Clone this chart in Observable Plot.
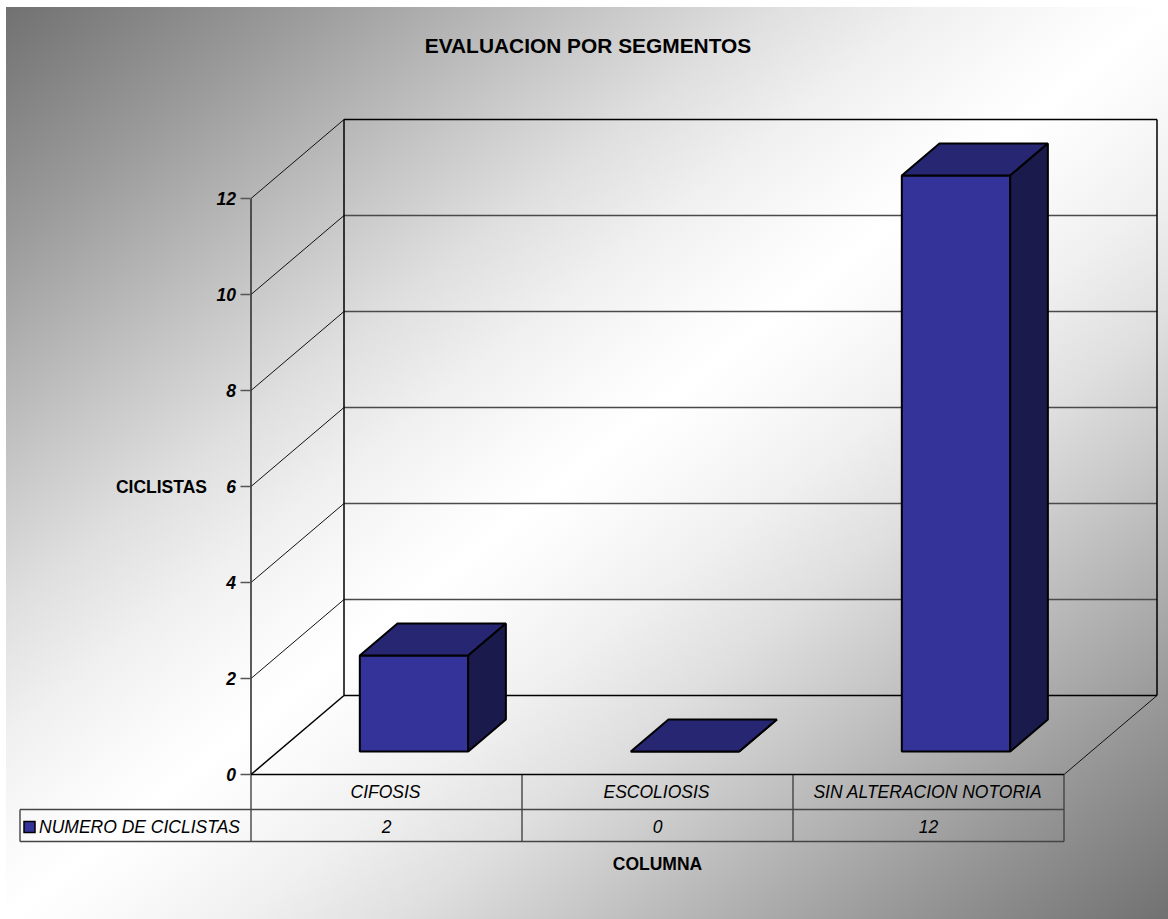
<!DOCTYPE html>
<html lang="es">
<head>
<meta charset="utf-8">
<title>Evaluacion por segmentos</title>
<script src="https://cdn.jsdelivr.net/npm/d3@7"></script>
<script src="https://cdn.jsdelivr.net/npm/@observablehq/plot@0.6"></script>
<style>
  html, body { margin: 0; padding: 0; background: #fff; }
  #chart { position: relative; width: 1168px; height: 919px; overflow: hidden; }
  #panel { position: absolute; left: 6px; top: 7px; right: 0; bottom: 0;
           background: linear-gradient(to bottom right,
             #717171 0%, #9b9b9b 13%, #c8c8c8 26%, #dfdfdf 33%, #f0f0f0 40%, #fafafa 46%, #ffffff 50%,
             #fafafa 54%, #f0f0f0 60%, #dfdfdf 67%, #c8c8c8 74%, #9b9b9b 87%, #717171 100%); }
  #chart svg { position: absolute; left: 0; top: 0; }
</style>
</head>
<body>
<div id="chart"><div id="panel"></div></div>
<script>
// Chart content
const chartTitle = "EVALUACION POR SEGMENTOS";
const yTitle = "CICLISTAS";
const xTitle = "COLUMNA";
const seriesName = "NUMERO DE CICLISTAS";
const categories = ["CIFOSIS", "ESCOLIOSIS", "SIN ALTERACION NOTORIA"];
const counts = [2, 0, 12];
const yTicks = [0, 2, 4, 6, 8, 10, 12];

// Oblique projection: depth 0 is the front plane, depth 1 the back wall.
// One unit of depth moves a point this far in x (category) and y (value) units.
const depthX = 93 / 271;
const depthY = 79 / 48;
const at = (x, y, d = 0) => ({x: x + d * depthX, y: y + d * depthY});
const edge = (x1, y1, d1, x2, y2, d2) => {
  const a = at(x1, y1, d1), b = at(x2, y2, d2);
  return {x1: a.x, y1: a.y, x2: b.x, y2: b.y};
};

const nCat = categories.length;
const topV = yTicks[yTicks.length - 1];

// Slanted gridlines on the left wall and the right edge of the floor
const slantEdges = [
  ...yTicks.slice(1).map(v => edge(0, v, 0, 0, v, 1)),
  edge(nCat, 0, 0, nCat, 0, 1)
];
// Horizontal gridlines on the back wall
const wallGrid = yTicks.slice(1, -1).map(v => edge(0, v, 1, nCat, v, 1));
// Box outline
const frameEdges = [
  edge(0, topV, 1, nCat, topV, 1),
  edge(0, 0, 1, 0, topV, 1),
  edge(nCat, 0, 1, nCat, topV, 1),
  edge(0, 0, 1, nCat, 0, 1),
  edge(0, 0, 0, 0, 0, 1),
  edge(0, 0, 0, nCat, 0, 0)
];
const axisLine = [edge(0, 0, 0, 0, topV, 0)];

// Three visible faces of each column
const barFront = 0.29, barBack = 0.695, barInset = 0.302, barWidth = 0.4;
const faces = [];
counts.forEach((v, i) => {
  const l = i + barInset, r = l + barWidth;
  const quad = (name, fill, pts) => pts.forEach(p => faces.push({...at(...p), face: `${i}-${name}`, fill}));
  quad("front", "#333399", [[l, 0, barFront], [r, 0, barFront], [r, v, barFront], [l, v, barFront]]);
  quad("top", "#262673", [[l, v, barFront], [r, v, barFront], [r, v, barBack], [l, v, barBack]]);
  quad("side", "#1a1a4d", [[r, 0, barFront], [r, 0, barBack], [r, v, barBack], [r, v, barFront]]);
});

// Data table under the plot, positioned in scale units below the axis
const rowLine1 = -35 / 48, rowLine2 = -67 / 48, tableLeft = -231 / 271;
const tableRules = [
  ...d3.range(nCat + 1).map(x => ({x1: x, y1: 0, x2: x, y2: rowLine2})),
  {x1: tableLeft, y1: rowLine1, x2: tableLeft, y2: rowLine2},
  {x1: tableLeft, y1: rowLine1, x2: nCat, y2: rowLine1},
  {x1: tableLeft, y1: rowLine2, x2: nCat, y2: rowLine2}
];
const catRowY = -18 / 48, valRowY = -52.5 / 48, xTitleY = -90 / 48;
const cellCenters = categories.map((_, i) => i + 0.5);

const ink = "#000";
const font = "'Liberation Sans', Arial, sans-serif";
const textSize = 17.5;
const links = {x1: "x1", y1: "y1", x2: "x2", y2: "y2"};

const plot = Plot.plot({
  width: 1168,
  height: 919,
  marginLeft: 250.5,
  marginRight: 104.5,
  marginTop: 198,
  marginBottom: 145,
  style: {background: "transparent", fontFamily: font, color: ink, maxWidth: "none"},
  x: {domain: [0, nCat], axis: null},
  y: {domain: [0, topV], axis: null},
  marks: [
    Plot.link(wallGrid, {...links, stroke: "#4a4a4a", strokeWidth: 1.4}),
    Plot.link(slantEdges, {...links, stroke: "#111", strokeWidth: 1}),
    Plot.link(tableRules, {...links, stroke: "#444", strokeWidth: 1.4}),
    Plot.link(axisLine, {...links, stroke: "#333", strokeWidth: 1.6}),
    Plot.link(frameEdges, {...links, stroke: ink, strokeWidth: 1.5}),

    // Columns
    Plot.line(faces, {x: "x", y: "y", z: "face", fill: "fill", stroke: ink, strokeWidth: 2,
                      curve: "linear-closed", strokeLinejoin: "miter"}),

    // Value axis: tick marks, then labels
    Plot.axisY({ticks: yTicks, tickSize: 10, label: null, stroke: "#555", strokeWidth: 1.5,
                tickFormat: () => ""}),
    Plot.axisY({ticks: yTicks, tickSize: 0, tickPadding: 15, dy: 1, label: null,
                fontSize: textSize, fontWeight: "bold", fontStyle: "italic", fill: ink,
                tickFormat: d3.format("d")}),
    Plot.text([yTitle], {x: 0, y: 6, text: d => d, textAnchor: "end", dx: -44, dy: 1,
                         fontSize: textSize, fontWeight: "bold", fill: ink}),

    // Data table text
    Plot.text(categories, {x: (_, i) => cellCenters[i], y: catRowY, dx: -1, text: d => d,
                           fontSize: textSize, fontStyle: "italic", fill: ink}),
    Plot.text(counts, {x: (_, i) => cellCenters[i], y: valRowY, text: d => String(d),
                       fontSize: textSize, fontStyle: "italic", fill: ink}),
    Plot.text([seriesName], {x: 0, y: valRowY, dx: -11, textAnchor: "end", text: d => d,
                             fontSize: textSize, fontStyle: "italic", fill: ink}),
    Plot.dot([seriesName], {x: tableLeft, y: valRowY, dx: 9.5, symbol: "square", r: 6.2,
                            fill: "#333399", stroke: ink, strokeWidth: 1.5}),

    // Titles
    Plot.text([xTitle], {x: nCat / 2, y: xTitleY, text: d => d, fontSize: textSize, fontWeight: "bold", fill: ink}),
    Plot.text([chartTitle], {frameAnchor: "top", lineAnchor: "middle", dx: -69.5, dy: -152, text: d => d,
                             fontSize: 20.9, fontWeight: "bold", fill: ink})
  ]
});

document.getElementById("chart").appendChild(plot);
</script>
</body>
</html>
